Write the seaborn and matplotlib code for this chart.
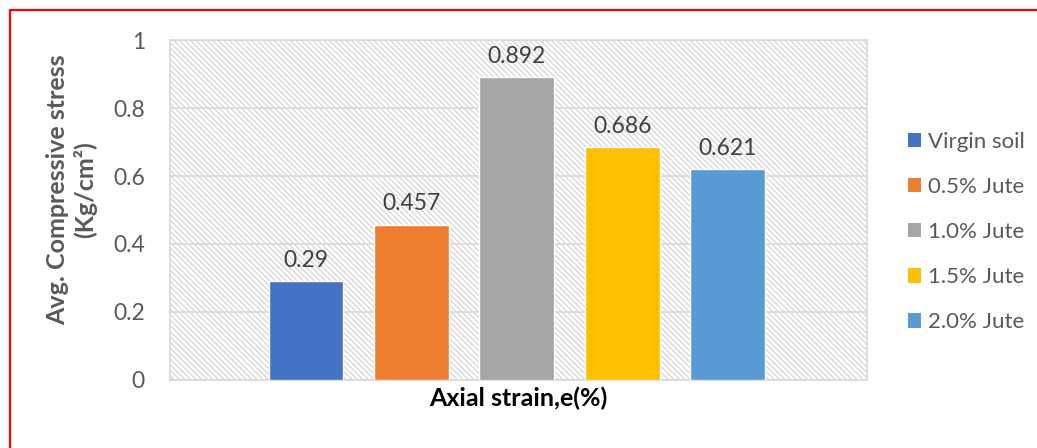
import matplotlib
matplotlib.use("Agg")
import matplotlib.pyplot as plt
from matplotlib.patches import Rectangle
from matplotlib.lines import Line2D
import seaborn as sns

# Data
series = ["Virgin soil", "0.5% Jute", "1.0% Jute", "1.5% Jute", "2.0% Jute"]
stress = [0.29, 0.457, 0.892, 0.686, 0.621]
value_labels = ["0.29", "0.457", "0.892", "0.686", "0.621"]
colors = ["#4472C4", "#ED7D31", "#A5A5A5", "#FFC000", "#5B9BD5"]
y_ticks = [0, 0.2, 0.4, 0.6, 0.8, 1]
y_tick_labels = ["0", "0.2", "0.4", "0.6", "0.8", "1"]

sns.set_theme(style="white")
plt.rcParams["font.family"] = ["Lato", "DejaVu Sans"]
plt.rcParams["hatch.linewidth"] = 0.9

fig = plt.figure(figsize=(10.37, 4.48), dpi=100)
ax = fig.add_axes([0.1639, 0.1518, 0.6722, 0.7589])

# hatched plot-area background
ax.add_patch(Rectangle((0, 0), 1, 1, transform=ax.transAxes, facecolor="white",
                       edgecolor="#d6d6d6", hatch="\\" * 6, lw=0, zorder=0.1))

sns.barplot(x=series, y=stress, hue=series, palette=colors, dodge=False,
            width=0.71, legend=False, ax=ax, zorder=3, saturation=1)

ax.set_xlim(-1.29, 5.32)
ax.set_ylim(0, 1)
ax.set_yticks(y_ticks)
ax.set_yticklabels(y_tick_labels, color="#595959", fontsize=16.5)
ax.set_xticks([])
ax.tick_params(axis="y", length=0, pad=18)
ax.yaxis.grid(True, color="#d9d9d9", lw=1.2)
for g in ax.get_ygridlines():
    g.set_zorder(1)
for s in ax.spines.values():
    s.set_color("#d9d9d9")
    s.set_linewidth(1.2)

for i, (v, lab) in enumerate(zip(stress, value_labels)):
    ax.text(i, v + 0.03, lab, ha="center", va="bottom", fontsize=16.5, color="#404040", zorder=4)

ax.set_ylabel("Avg. Compressive stress\n(Kg/cm\u00b2)", fontsize=18, fontweight="bold",
              color="#595959", linespacing=1.2)
ax.yaxis.set_label_coords(-0.105, 0.56)
ax.set_xlabel("Axial strain,e(%)", fontsize=18, fontweight="bold", color="black", labelpad=5)

handles = [Rectangle((0, 0), 1, 1, facecolor=c, edgecolor="none") for c in colors]
fig.legend(handles, series, loc="center left", bbox_to_anchor=(0.856, 0.482), frameon=False,
           handlelength=0.62, handleheight=0.62, handletextpad=0.3, labelspacing=1.13,
           prop={"size": 16}, labelcolor="#595959")

# red outline along the top and left edges
fig.add_artist(Line2D([0.0092, 0.0092], [0, 0.9766], color="red", lw=1.6, transform=fig.transFigure))
fig.add_artist(Line2D([0.0092, 1.0], [0.9766, 0.9766], color="red", lw=1.6, transform=fig.transFigure))

fig.savefig("out.png", dpi=100, facecolor="white")
